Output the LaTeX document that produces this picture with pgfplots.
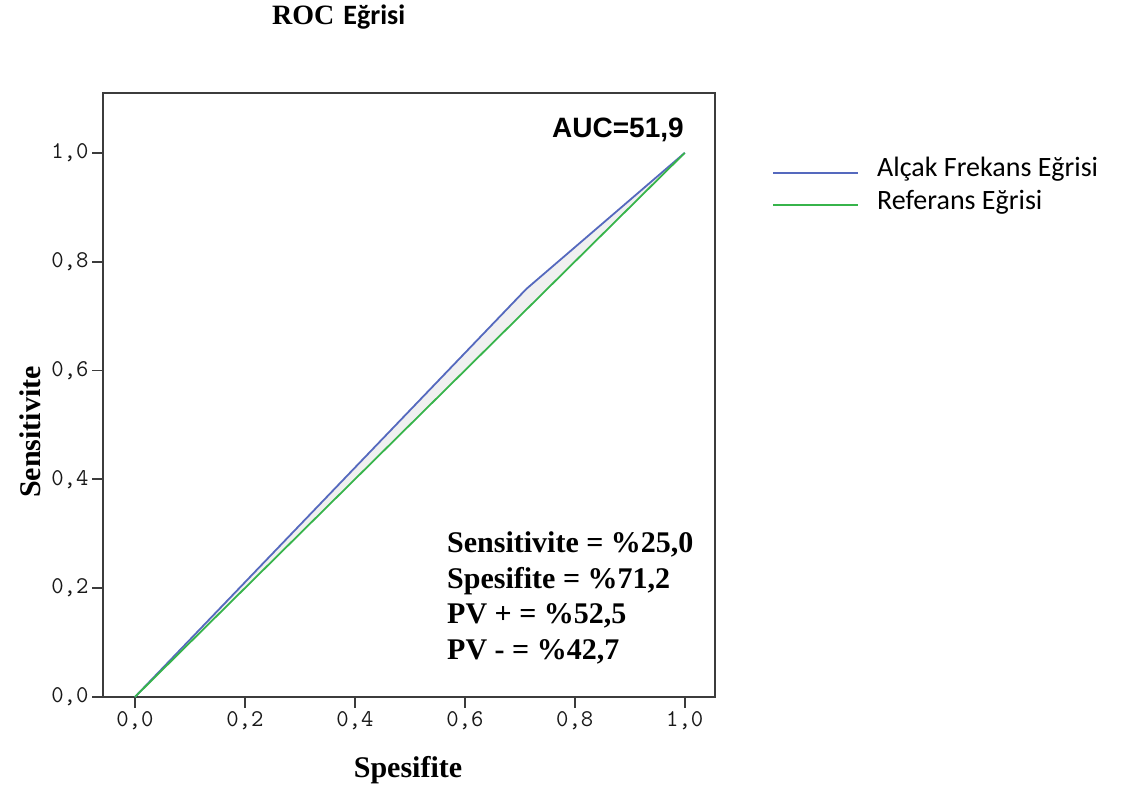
\documentclass[border=0pt]{standalone}
\usepackage{fontspec}
\setmainfont{Liberation Serif}
\newfontfamily\carlito{Carlito}
\newfontfamily\arialf{Liberation Sans}
\usepackage{pgfplots}
\pgfplotsset{compat=1.18}
\definecolor{rocblue}{RGB}{85,105,190}
\definecolor{refgreen}{RGB}{55,180,75}
\definecolor{framegray}{RGB}{60,60,60}
\begin{document}
\begin{tikzpicture}[x=1pt,y=1pt]
\useasboundingbox (0,0) rectangle (1128,789);
\begin{axis}[
  at={(103pt,92pt)}, anchor=south west,
  width=612pt, height=604pt, scale only axis,
  xmin=-0.058, xmax=1.055, ymin=0, ymax=1.11,
  axis line style={framegray, line width=1.8pt},
  xtick={0,0.2,0.4,0.6,0.8,1},
  ytick={0,0.2,0.4,0.6,0.8,1},
  xticklabels={{0,0},{0,2},{0,4},{0,6},{0,8},{1,0}},
  yticklabels={{0,0},{0,2},{0,4},{0,6},{0,8},{1,0}},
  xtick pos=left, ytick pos=left,
  tick align=outside, major tick length=11pt,
  tick style={framegray, line width=1.8pt},
  ticklabel style={font=\ttfamily\fontsize{24}{27}\selectfont, text=black!90},
  clip=false,
]
\addplot[fill=gray!12, draw=none, forget plot] coordinates {(0,0) (0.712,0.75) (1,1)} -- cycle;
\addplot[rocblue, line width=1.8pt] coordinates {(0,0) (0.712,0.75) (1,1)};
\addplot[refgreen, line width=1.8pt] coordinates {(0,0) (1,1)};
\end{axis}
% title
\node[anchor=base west, inner sep=0] at (272,764) {\fontsize{28}{31}\selectfont\textbf{ROC}\hspace{9pt}{\carlito\bfseries Eğrisi}};
% axis labels
\node[inner sep=0] at (408,19) {\fontsize{30}{34}\selectfont\textbf{Spesifite}};
\node[inner sep=0, rotate=90] at (30,357) {\fontsize{30}{34}\selectfont\textbf{Sensitivite}};
% AUC
\node[anchor=base west, inner sep=0] at (552,651) {\arialf\bfseries\fontsize{28}{32}\selectfont AUC=51,9};
% stats
\node[anchor=base west, inner sep=0] at (447,236) {\fontsize{30}{34}\selectfont\textbf{Sensitivite = \%25,0}};
\node[anchor=base west, inner sep=0] at (447,200) {\fontsize{30}{34}\selectfont\textbf{Spesifite = \%71,2}};
\node[anchor=base west, inner sep=0] at (447,165) {\fontsize{30}{34}\selectfont\textbf{PV + = \%52,5}};
\node[anchor=base west, inner sep=0] at (447,129) {\fontsize{30}{34}\selectfont\textbf{PV - = \%42,7}};
% legend
\draw[rocblue, line width=1.8pt] (773,616) -- (858,616);
\draw[refgreen, line width=1.8pt] (773,584) -- (858,584);
\node[anchor=base west, inner sep=0] at (877,612) {\carlito\fontsize{28}{31}\selectfont Alçak Frekans Eğrisi};
\node[anchor=base west, inner sep=0] at (877,579) {\carlito\fontsize{28}{31}\selectfont Referans Eğrisi};
\end{tikzpicture}
\end{document}
